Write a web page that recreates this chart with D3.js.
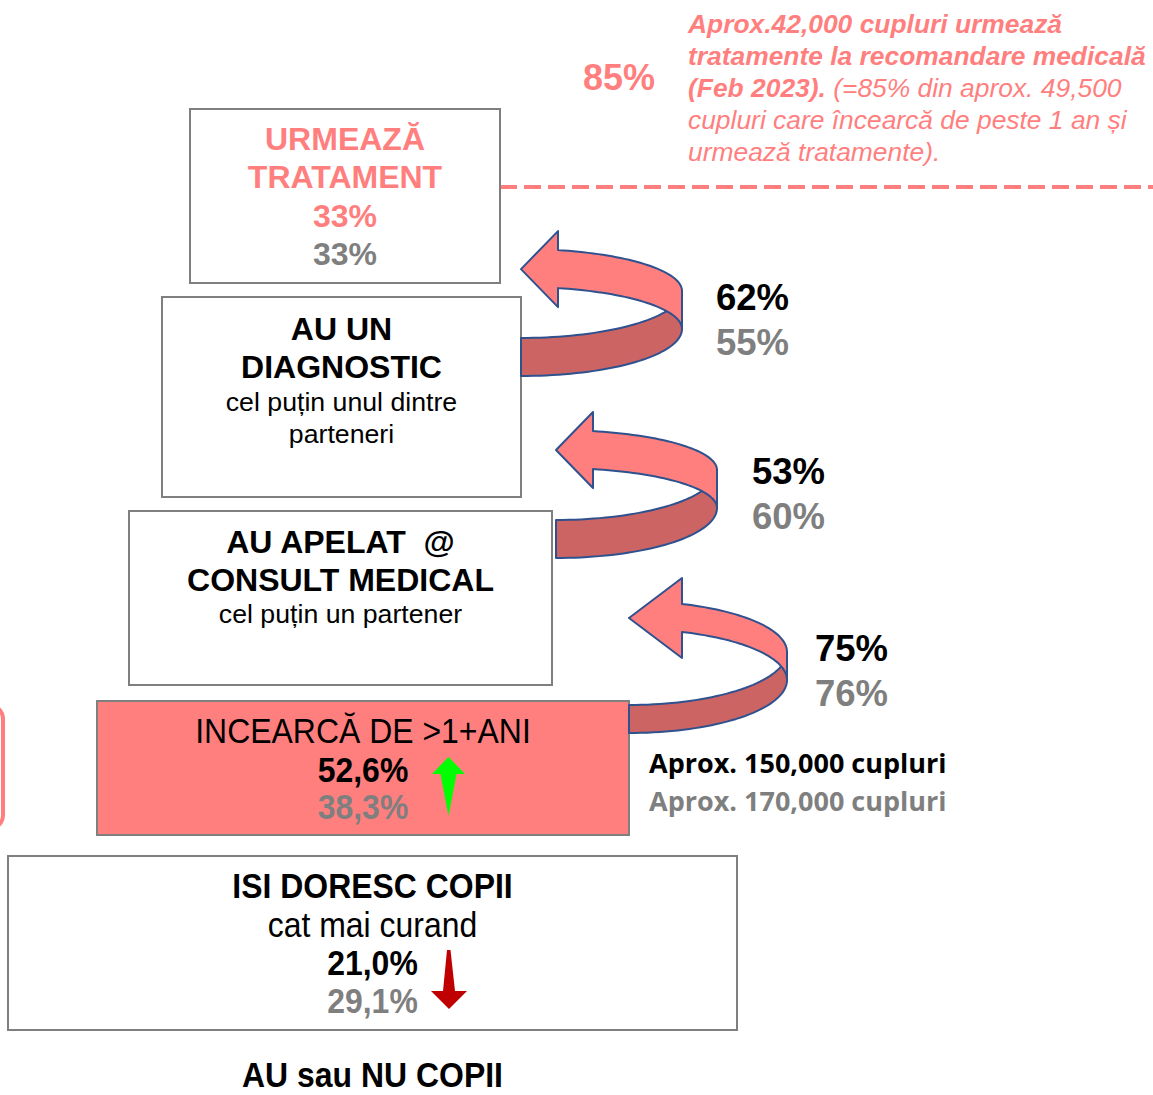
<!DOCTYPE html>
<html>
<head>
<meta charset="utf-8">
<script src="https://cdn.jsdelivr.net/npm/d3@7"></script>
<style>
body { margin: 0; background: #fff; }
svg { display: block; }
text { white-space: pre; }
</style>
</head>
<body>
<div id="chart"></div>
<script>
// funnel data (bottom to top)
const stepTitles = ["ISI DORESC COPII", "INCEARCĂ DE >1+ANI", "AU APELAT  @|CONSULT MEDICAL", "AU UN|DIAGNOSTIC", "URMEAZĂ|TRATAMENT"];
const stepNotes = ["cat mai curand", "", "cel puțin un partener", "cel puțin unul dintre|parteneri", ""];
const shareNow = [21.0, 52.6];
const sharePrev = [29.1, 38.3];
const passNow = [75, 53, 62];
const passPrev = [76, 60, 55];
const treatNow = 33, treatPrev = 33;
const couplesNow = 150000, couplesPrev = 170000;
const treatedShare = 85, treatedCouples = 42000, tryingCouples = 49500;
const baseLabel = "AU sau NU COPII";

const width = 1153, height = 1095;
const pink = "#FF7F7F", grey = "#7F7F7F", darkPink = "#CD6464", blue = "#2F528F";
const narrow = 0.913;

const ro = d3.formatLocale({decimal: ",", thousands: ".", grouping: [3], currency: ["", ""]});
const pct1 = v => ro.format(".1f")(v) + "%";
const pct0 = v => d3.format("d")(v) + "%";
const thou = d3.format(",");

const svg = d3.select("#chart").append("svg")
    .attr("width", width)
    .attr("height", height)
    .attr("viewBox", [0, 0, width, height])
    .style("font-family", "'Liberation Sans', Arial, sans-serif");

svg.append("rect").attr("width", width).attr("height", height).attr("fill", "#fff");

// box layout, same order as stepTitles
const boxes = [
    { x: 8, y: 856, w: 729, h: 174, fill: "#fff" },
    { x: 97, y: 701, w: 532, h: 134, fill: pink },
    { x: 129, y: 511, w: 423, h: 174, fill: "#fff" },
    { x: 162, y: 297, w: 359, h: 200, fill: "#fff" },
    { x: 190, y: 109, w: 310, h: 174, fill: "#fff" }
];

// partial rounded frame on the left edge
svg.append("rect")
    .attr("x", -200).attr("y", 705)
    .attr("width", 203).attr("height", 124)
    .attr("rx", 14)
    .attr("fill", "none")
    .attr("stroke", pink)
    .attr("stroke-width", 4);

// dashed line under the note
svg.append("line")
    .attr("x1", 500).attr("x2", width)
    .attr("y1", 187).attr("y2", 187)
    .attr("stroke", pink)
    .attr("stroke-width", 4)
    .attr("stroke-dasharray", "17,7");

svg.selectAll(".box").data(boxes).enter().append("rect")
    .attr("class", "box")
    .attr("x", d => d.x).attr("y", d => d.y)
    .attr("width", d => d.w).attr("height", d => d.h)
    .attr("fill", d => d.fill)
    .attr("stroke", grey)
    .attr("stroke-width", 2);

// curved ribbon arrows
const arrows = [
    { L: 629, R: 787, cy: 652, t: 28, ryl: 53, ryu: 51, head: 53, half: 40 },
    { L: 556, R: 717, cy: 470, t: 38, ryl: 50, ryu: 40, head: 37, half: 38 },
    { L: 521, R: 682, cy: 291, t: 38, ryl: 47, ryu: 42, head: 37, half: 38 }
];

function ribbon(a) {
    const rx = a.R - a.L;
    const H = a.L + a.head;
    const thH = Math.acos((H - a.L) / rx);
    const lowAng = d3.range(0, 41).map(i => i / 40 * Math.PI / 2);
    const upAng = d3.range(0, 41).map(i => i / 40 * thH);
    const lower = lowAng.map(th => [a.L + rx * Math.cos(th), a.cy + a.ryl * Math.sin(th)]);
    const upper = upAng.map(th => [a.L + rx * Math.cos(th), a.cy - a.ryu * Math.sin(th)]);
    const front = lower.concat(lower.slice().reverse().map(p => [p[0], p[1] + a.t]));
    const top = upper[upper.length - 1][1];
    const hc = top + a.t / 2;
    const back = upper
        .concat([[H, hc - a.half], [a.L, hc], [H, hc + a.half], [H, top + a.t]])
        .concat(upper.slice().reverse().map(p => [p[0], p[1] + a.t]));
    return { front, back };
}

const line = d3.line();
const gArrows = svg.append("g")
    .attr("stroke", blue)
    .attr("stroke-width", 2)
    .attr("stroke-linejoin", "round");

arrows.forEach(a => {
    const r = ribbon(a);
    gArrows.append("path").attr("d", line(r.front) + "Z").attr("fill", darkPink);
    gArrows.append("path").attr("d", line(r.back) + "Z").attr("fill", pink);
});

// helper for text
function txt(x, y, s, o) {
    o = o || {};
    const t = svg.append("text")
        .attr("text-anchor", o.anchor || "middle")
        .attr("font-size", o.size || 32)
        .attr("font-weight", o.bold ? "bold" : "normal")
        .attr("font-style", o.italic ? "italic" : "normal")
        .attr("fill", o.color || "#000")
        .text(s);
    if (o.narrow) t.attr("transform", `translate(${x},${y}) scale(${o.narrow},1)`);
    else t.attr("x", x).attr("y", y);
    if (o.family) t.style("font-family", o.family);
    return t;
}

// top box
const b4 = boxes[4], c4 = b4.x + b4.w / 2;
stepTitles[4].split("|").forEach((s, i) => txt(c4, 150 + i * 38, s, { bold: true, color: pink }));
txt(c4, 227, pct0(treatNow), { bold: true, color: pink });
txt(c4, 265, pct0(treatPrev), { bold: true, color: grey });

// diagnostic box
const b3 = boxes[3], c3 = b3.x + b3.w / 2;
stepTitles[3].split("|").forEach((s, i) => txt(c3, 340 + i * 38, s, { bold: true }));
stepNotes[3].split("|").forEach((s, i) => txt(c3, 411 + i * 32, s, { size: 26.7 }));

// consult box
const b2 = boxes[2], c2 = b2.x + b2.w / 2;
stepTitles[2].split("|").forEach((s, i) => txt(c2, 553 + i * 38, s, { bold: true }));
txt(c2, 623, stepNotes[2], { size: 26.7 });

// trying box
const b1 = boxes[1], c1 = b1.x + b1.w / 2;
txt(c1, 743, stepTitles[1], { size: 35, narrow: narrow });
txt(c1, 782, pct1(shareNow[1]), { size: 35, bold: true, narrow: narrow });
txt(c1, 819, pct1(sharePrev[1]), { size: 35, bold: true, narrow: narrow, color: grey });

// wish box
const b0 = boxes[0], c0 = b0.x + b0.w / 2;
txt(c0, 898, stepTitles[0], { size: 35, bold: true, narrow: narrow });
txt(c0, 937, stepNotes[0], { size: 35, narrow: narrow });
txt(c0, 975, pct1(shareNow[0]), { size: 35, bold: true, narrow: narrow });
txt(c0, 1013, pct1(sharePrev[0]), { size: 35, bold: true, narrow: narrow, color: grey });
txt(c0, 1087, baseLabel, { size: 35, bold: true, narrow: narrow });

// trend arrows
svg.append("path")
    .attr("d", line([[448.5, 757], [465, 774], [456.5, 774], [448.5, 816], [440.5, 774], [432, 774]]) + "Z")
    .attr("fill", "#00FF00");
svg.append("path")
    .attr("d", line([[447, 950], [450.5, 950], [455, 991], [467, 991], [449, 1009], [431, 991], [443, 991]]) + "Z")
    .attr("fill", "#C00000");

// conversion labels next to the arrows
const passPos = [{ x: 815, y: 661 }, { x: 752, y: 484 }, { x: 716, y: 310 }];
passPos.forEach((p, i) => {
    txt(p.x, p.y, pct0(passNow[i]), { anchor: "start", size: 36.5, bold: true });
    txt(p.x, p.y + 45, pct0(passPrev[i]), { anchor: "start", size: 36.5, bold: true, color: grey });
});

// couples
txt(649, 773, "Aprox. " + thou(couplesNow) + " cupluri", { anchor: "start", size: 27, bold: true, family: "'Open Sans', sans-serif" });
txt(649, 811, "Aprox. " + thou(couplesPrev) + " cupluri", { anchor: "start", size: 27, bold: true, color: grey, family: "'Open Sans', sans-serif" });

// treatment note
txt(583, 90, pct0(treatedShare), { anchor: "start", size: 36, bold: true, color: pink });
const note = svg.append("text")
    .attr("font-size", 26.4)
    .attr("font-style", "italic")
    .attr("fill", pink);
const noteLines = [
    [["Aprox." + thou(treatedCouples) + " cupluri urmează", true]],
    [["tratamente la recomandare medicală", true]],
    [["(Feb 2023).", true], [" (=" + pct0(treatedShare) + " din aprox. " + thou(tryingCouples), false]],
    [["cupluri care încearcă de peste 1 an și", false]],
    [["urmează tratamente).", false]]
];
noteLines.forEach((ln, i) => {
    ln.forEach((seg, j) => {
        const ts = note.append("tspan")
            .attr("font-weight", seg[1] ? "bold" : "normal")
            .text(seg[0]);
        if (j == 0) ts.attr("x", 688).attr("y", 33 + i * 32);
    });
});
</script>
</body>
</html>
